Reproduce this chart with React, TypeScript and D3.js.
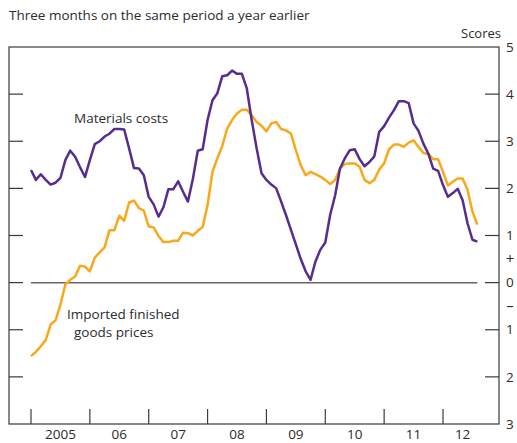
import React from "react";
import * as d3 from "d3";

const startYear = 2005;
const yearTicks = [2005, 2006, 2007, 2008, 2009, 2010, 2011, 2012];
const yearLabels = ["2005", "06", "07", "08", "09", "10", "11", "12"];
const scoreTicks = [5, 4, 3, 2, 1, 0, -1, -2, -3];
const scoreLabels = ["5", "4", "3", "2", "1", "0", "1", "2", "3"];

const materialsCosts = [
  2.39, 2.18, 2.3, 2.18, 2.08, 2.12, 2.22, 2.6, 2.8, 2.67, 2.45, 2.24,
  2.6, 2.94, 3.0, 3.1, 3.16, 3.26, 3.26, 3.25, 2.85, 2.43, 2.42, 2.28,
  1.82, 1.66, 1.4, 1.6, 1.98, 1.98, 2.15, 1.93, 1.72, 2.2, 2.8, 2.83,
  3.45, 3.87, 4.02, 4.38, 4.4, 4.5, 4.43, 4.43, 4.12, 3.45, 2.85, 2.32,
  2.18, 2.08, 2.0, 1.72, 1.43, 1.12, 0.81, 0.5, 0.24, 0.06, 0.45, 0.7,
  0.85, 1.44, 1.85, 2.42, 2.64, 2.81, 2.83, 2.62, 2.47, 2.56, 2.68, 3.2,
  3.32, 3.5, 3.66, 3.85, 3.85, 3.81, 3.38, 3.22, 2.95, 2.74, 2.42, 2.37,
  2.07, 1.82, 1.9, 1.99, 1.75, 1.26, 0.91, 0.87,
];

const importedPrices = [
  -1.56, -1.47, -1.35, -1.22, -0.89, -0.8, -0.47, -0.04, 0.06, 0.13, 0.36, 0.34,
  0.24, 0.53, 0.64, 0.75, 1.11, 1.11, 1.42, 1.31, 1.7, 1.74, 1.58, 1.53,
  1.19, 1.17, 0.99, 0.86, 0.86, 0.89, 0.89, 1.06, 1.05, 1.0, 1.1, 1.18,
  1.65, 2.35, 2.64, 2.9, 3.27, 3.45, 3.59, 3.67, 3.67, 3.55, 3.41, 3.33,
  3.21, 3.38, 3.41, 3.26, 3.23, 3.16, 2.81, 2.49, 2.28, 2.35, 2.3, 2.25,
  2.18, 2.09, 2.18, 2.42, 2.52, 2.53, 2.53, 2.46, 2.18, 2.11, 2.18, 2.4,
  2.53, 2.83, 2.93, 2.93, 2.88, 2.97, 3.02, 2.88, 2.75, 2.73, 2.62, 2.62,
  2.35, 2.06, 2.14, 2.21, 2.21, 1.97, 1.51, 1.23,
];

const W = 517;
const H = 443;
const box = { left: 9, right: 499, top: 47, bottom: 424 };
const PURPLE = "#562d8e";
const ORANGE = "#f9a81b";
const TEXT = "#2b2b2b";
const FONT = "'Open Sans', 'Noto Sans', sans-serif";

export default function App() {
  const t = (i: number) => startYear + i / 12;
  const x = d3.scaleLinear().domain([2005, 2012]).range([31, 443]);
  const y = d3.scaleLinear().domain([-3, 5]).range([box.bottom, box.top]);

  const line = d3
    .line<number>()
    .x((_, i) => x(t(i)))
    .y((v) => y(v));

  const lastT = t(materialsCosts.length - 1);
  const endT = lastT + 1 / 12;

  return (
    <svg
      width={W}
      height={H}
      style={{ position: "absolute", left: 0, top: 0 }}
      fontFamily={FONT}
    >
      <rect width={W} height={H} fill="#fff" />
      <text x={9} y={20} fontSize={13.5} fill={TEXT}>
        Three months on the same period a year earlier
      </text>
      <text x={501} y={38} fontSize={13} fill={TEXT} textAnchor="end">
        Scores
      </text>

      {/* zero line */}
      <line
        x1={x(t(0))}
        x2={x(lastT)}
        y1={y(0)}
        y2={y(0)}
        stroke="#666"
        strokeWidth={1.5}
      />

      {/* box */}
      <rect
        x={box.left}
        y={box.top}
        width={box.right - box.left}
        height={box.bottom - box.top}
        fill="none"
        stroke="#3a3a3a"
        strokeWidth={1.2}
      />

      {/* y ticks both sides */}
      {scoreTicks
        .filter((v) => v < 5 && v > -3)
        .map((v) => (
          <g key={"yt" + v}>
            <line x1={box.left} x2={box.left + 14} y1={y(v)} y2={y(v)} stroke="#3a3a3a" strokeWidth={1.2} />
            <line x1={box.right - 14} x2={box.right} y1={y(v)} y2={y(v)} stroke="#3a3a3a" strokeWidth={1.2} />
          </g>
        ))}
      {scoreTicks.map((v, i) => (
        <text
          key={"yl" + v}
          x={506}
          y={y(v)}
          dy="0.35em"
          fontSize={13.5}
          fill={TEXT}
        >
          {scoreLabels[i]}
        </text>
      ))}
      <text x={510} y={y(0.5)} dy="0.35em" fontSize={15} fill={TEXT} textAnchor="middle">
        +
      </text>
      <text x={510} y={y(-0.5)} dy="0.35em" fontSize={15} fill={TEXT} textAnchor="middle">
        –
      </text>

      {/* x ticks */}
      {yearTicks.map((yr) => (
        <line
          key={"xt" + yr}
          x1={x(yr)}
          x2={x(yr)}
          y1={box.bottom - 15}
          y2={box.bottom}
          stroke="#3a3a3a"
          strokeWidth={1.2}
        />
      ))}
      {yearTicks.map((yr, i) => {
        const end = Math.min(yr + 1, endT);
        return (
          <text
            key={"xl" + yr}
            x={x((yr + end) / 2)}
            y={439}
            fontSize={13.5}
            fill={TEXT}
            textAnchor="middle"
          >
            {yearLabels[i]}
          </text>
        );
      })}

      <path d={line(importedPrices) || ""} fill="none" stroke={ORANGE} strokeWidth={2.5} strokeLinejoin="round" />
      <path d={line(materialsCosts) || ""} fill="none" stroke={PURPLE} strokeWidth={2.5} strokeLinejoin="round" />

      <text x={74} y={123} fontSize={13.5} fill={TEXT}>
        Materials costs
      </text>
      <text x={67} y={319} fontSize={13.5} fill={TEXT}>
        Imported finished
      </text>
      <text x={74} y={337} fontSize={13.5} fill={TEXT}>
        goods prices
      </text>
    </svg>
  );
}
